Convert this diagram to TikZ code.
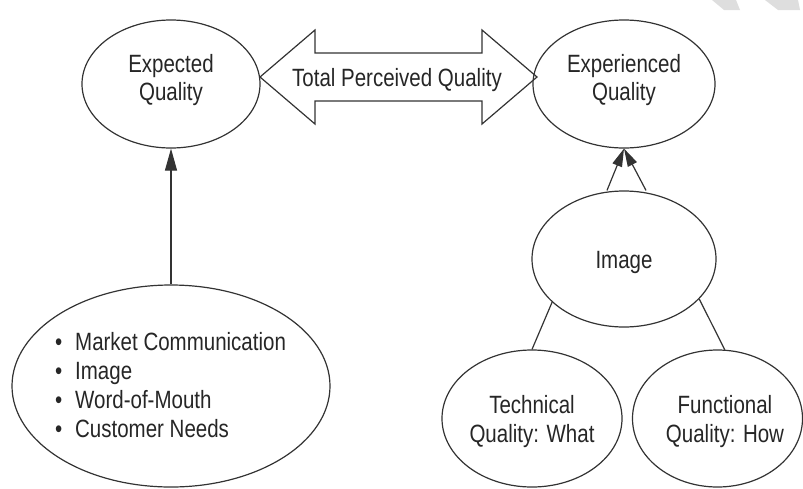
\documentclass[tikz,border=0pt]{standalone}
\usepackage{fontspec}
\setmainfont{Liberation Sans}[FakeStretch=0.82]
\usetikzlibrary{shapes.geometric,arrows.meta}
\begin{document}
\begin{tikzpicture}[x=1pt,y=-1pt,
  ell/.style={ellipse, draw=black!80, line width=1.2pt, inner sep=0pt},
  lbl/.style={font=\fontsize{25}{28.5}\selectfont, text=black!85, align=center, inner sep=0pt},
  conn/.style={draw=black!80, line width=1.2pt},
  bigtip/.style={-{Triangle[length=22pt,width=12pt]}},
  smalltip/.style={-{Triangle[length=18pt,width=10pt]}},
  wm/.style={fill=black!13, draw=none}
]
\useasboundingbox (0,0) rectangle (803,488);
% faint watermark bands
\path[wm] (712,0) -- (736,0) -- (740,10) -- (724,10) -- cycle;
\path[wm] (765,0) -- (798,0) -- (800,10) -- (778,10) -- cycle;

% ellipses
\node[ell, minimum width=178pt, minimum height=128pt] (expq) at (171,84) {};
\node[ell, minimum width=182pt, minimum height=128pt] (expd) at (624,84) {};
\node[ell, minimum width=184pt, minimum height=136pt] (img) at (624,259) {};
\node[ell, minimum width=180pt, minimum height=137pt] (tech) at (532,418.5) {};
\node[ell, minimum width=170pt, minimum height=137pt] (func) at (717.5,418.5) {};
\node[ell, minimum width=318pt, minimum height=202pt] (bl) at (171,386) {};

% texts
\node[lbl] (texpq) at (171,80) {Expected\\Quality};
\node[lbl] (texpd) at (624,80) {Experienced\\Quality};
\node[lbl] (timg) at (624,262) {Image};
\node[lbl] (ttech) at (532,421.5) {Technical\\Quality: What};
\node[lbl] (tfunc) at (725,421.5) {Functional\\Quality: How};
\node[lbl, align=left, anchor=west, font=\fontsize{25}{29}\selectfont] (tbl) at (55,385)
  {\makebox[20pt][l]{•}Market Communication\\
   \makebox[20pt][l]{•}Image\\
   \makebox[20pt][l]{•}Word-of-Mouth\\
   \makebox[20pt][l]{•}Customer Needs};

% big double arrow
\draw[conn] (260,77) -- (315,30) -- (315,53) -- (482,53) -- (482,30) -- (537,77)
  -- (482,124) -- (482,101) -- (315,101) -- (315,124) -- cycle;
\node[lbl, anchor=base] (ttpq) at (397,86) {Total Perceived Quality};

% connectors
\draw[conn, bigtip] (bl) -- (expq);
\draw[conn, smalltip] ([xshift=-17pt]img.north) -- (expd.south);
\draw[conn, smalltip] ([xshift=22pt]img.north) -- (expd.south);
\draw[conn] (img.211) -- (tech.north);
\draw[conn] (img.332) -- (func.84);
\end{tikzpicture}
\end{document}
